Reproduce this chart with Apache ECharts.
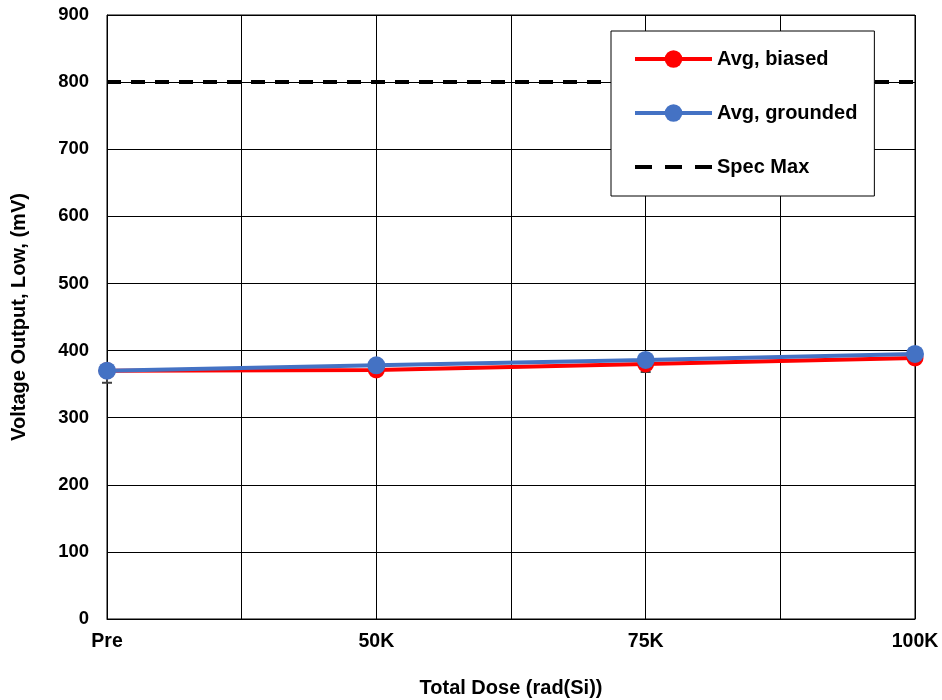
<!DOCTYPE html>
<html><head><meta charset="utf-8">
<script src="https://cdn.jsdelivr.net/npm/echarts@6/dist/echarts.min.js"></script>
<style>html,body{margin:0;padding:0;background:#fff}#c{width:942px;height:700px}</style>
</head><body><div id="c"></div>
<script>
var categories = ['Pre', '', '50K', '', '75K', '', '100K'];
var biased = [370, null, 371, null, 380, null, 389];
var grounded = [370, null, 378, null, 386, null, 395];
var biasedLow = [352, null, 364, null, 368, null, 380];
var specMax = [800, 800, 800, 800, 800, 800, 800];
var yTicks = [0, 100, 200, 300, 400, 500, 600, 700, 800, 900];

var font = 'Liberation Sans, Arial, sans-serif';
var errData = [];
biased.forEach(function (v, i) { if (v !== null) errData.push([i, biasedLow[i], v]); });

var chart = echarts.init(document.getElementById('c'));
chart.setOption({
  animation: false,
  grid: { left: 107, right: 27, top: 15, bottom: 81, show: true, borderColor: '#000', borderWidth: 1,
          containLabel: false, outerBoundsMode: 'none' },
  legend: {
    orient: 'vertical', left: 611, top: 31,
    padding: [18, 17, 19, 22], itemGap: 34, itemWidth: 77, itemHeight: 22,
    backgroundColor: '#fff', borderColor: '#000', borderWidth: 1,
    textStyle: { fontFamily: font, fontWeight: 'bold', fontSize: 20, color: '#000' },
    data: [
      { name: 'Avg, biased', lineStyle: { width: 4 } },
      { name: 'Avg, grounded', lineStyle: { width: 4 } },
      { name: 'Spec Max', lineStyle: { width: 4, type: [17, 13] }, itemStyle: { opacity: 0 } }
    ]
  },
  xAxis: {
    type: 'category', data: categories, boundaryGap: false,
    name: 'Total Dose (rad(Si))', nameLocation: 'middle', nameGap: 59,
    nameTextStyle: { fontFamily: font, fontWeight: 'bold', fontSize: 20, color: '#000' },
    axisLine: { lineStyle: { color: '#000' } }, axisTick: { show: false },
    axisLabel: { interval: 0, fontFamily: font, fontWeight: 'bold', fontSize: 19.5, color: '#000', margin: 13 },
    splitLine: { show: true, interval: 0, lineStyle: { color: '#000', width: 1 } }
  },
  yAxis: {
    type: 'value', min: 0, max: 900, interval: 100,
    name: 'Voltage Output, Low, (mV)', nameLocation: 'middle', nameGap: 78,
    nameTextStyle: { fontFamily: font, fontWeight: 'bold', fontSize: 20, color: '#000' },
    axisLine: { show: true, lineStyle: { color: '#000' } }, axisTick: { show: false },
    axisLabel: { fontFamily: font, fontWeight: 'bold', fontSize: 18.5, color: '#000', margin: 18,
      formatter: function (v) { return yTicks.indexOf(v) >= 0 ? String(v) : ''; } },
    splitLine: { lineStyle: { color: '#000', width: 1 } }
  },
  series: [
    { type: 'custom', name: 'err', z: 1, data: errData, silent: true,
      renderItem: function (params, api) {
        var x = api.value(0);
        var lo = api.coord([x, api.value(1)]);
        var hi = api.coord([x, api.value(2)]);
        return { type: 'group', children: [
          { type: 'line', shape: { x1: lo[0], y1: lo[1], x2: hi[0], y2: hi[1] }, style: { stroke: '#404040', lineWidth: 2 } },
          { type: 'line', shape: { x1: lo[0] - 5, y1: lo[1], x2: lo[0] + 5, y2: lo[1] }, style: { stroke: '#404040', lineWidth: 2 } }
        ] };
      } },
    { type: 'line', name: 'Spec Max', data: specMax, symbol: 'none', z: 2,
      lineStyle: { color: '#000', width: 4, type: [14, 10] }, itemStyle: { color: '#000' } },
    { type: 'line', name: 'Avg, biased', data: biased, connectNulls: true, z: 3,
      symbol: 'circle', symbolSize: 17, color: '#ff0000',
      lineStyle: { color: '#ff0000', width: 4 }, itemStyle: { color: '#ff0000' } },
    { type: 'line', name: 'Avg, grounded', data: grounded, connectNulls: true, z: 4,
      symbol: 'circle', symbolSize: 18, color: '#4472c4',
      lineStyle: { color: '#4472c4', width: 4 }, itemStyle: { color: '#4472c4' } }
  ]
});
</script></body></html>
